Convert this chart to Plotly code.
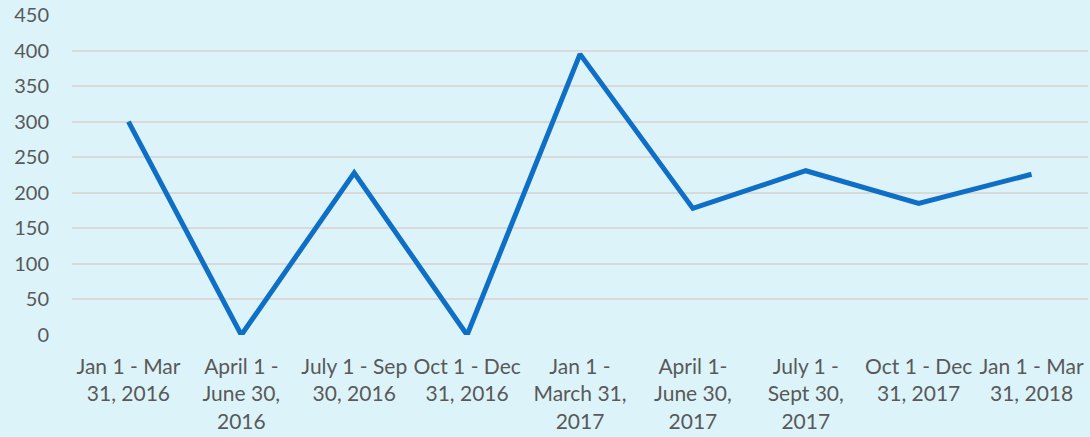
import plotly.graph_objects as go

categories = [
    "Jan 1 - Mar<br>31, 2016",
    "April 1 -<br>June 30,<br>2016",
    "July 1 - Sep<br>30, 2016",
    "Oct 1 - Dec<br>31, 2016",
    "Jan 1 -<br>March 31,<br>2017",
    "April 1-<br>June 30,<br>2017",
    "July 1 -<br>Sept 30,<br>2017",
    "Oct 1 - Dec<br>31, 2017",
    "Jan 1 - Mar<br>31, 2018",
]
values = [300, 0, 228, 0, 395, 178, 231, 185, 226]
y_ticks = [0, 50, 100, 150, 200, 250, 300, 350, 400, 450]

BG = "#DCF4F9"
TEXT = "#595959"
FONT = "Lato"

fig = go.Figure(
    go.Scatter(
        x=categories,
        y=values,
        mode="lines",
        line=dict(color="#0F6FC6", width=5),
        hoverinfo="x+y",
    )
)

fig.update_layout(
    width=1090,
    height=437,
    margin=dict(l=72, r=2, t=15, b=102),
    paper_bgcolor=BG,
    plot_bgcolor=BG,
    showlegend=False,
    font=dict(family=FONT, size=20, color=TEXT),
)
fig.update_xaxes(
    type="category",
    showgrid=False,
    zeroline=False,
    showline=False,
    ticks="",
    tickfont=dict(family=FONT, size=21, color=TEXT),
    range=[-0.5, len(categories) - 0.5],
    ticklabelstandoff=17,
)
fig.update_yaxes(
    range=[0, 450],
    tickvals=y_ticks,
    showgrid=True,
    gridcolor="#D9D9D9",
    gridwidth=2,
    zeroline=False,
    showline=False,
    ticks="",
    tickfont=dict(family=FONT, size=20, color=TEXT),
    ticklabelstandoff=22,
)

fig.write_html(
    "out.html",
    config={"displayModeBar": False},
    post_script="document.body.style.margin='0';document.body.style.background='%s';" % BG,
)
